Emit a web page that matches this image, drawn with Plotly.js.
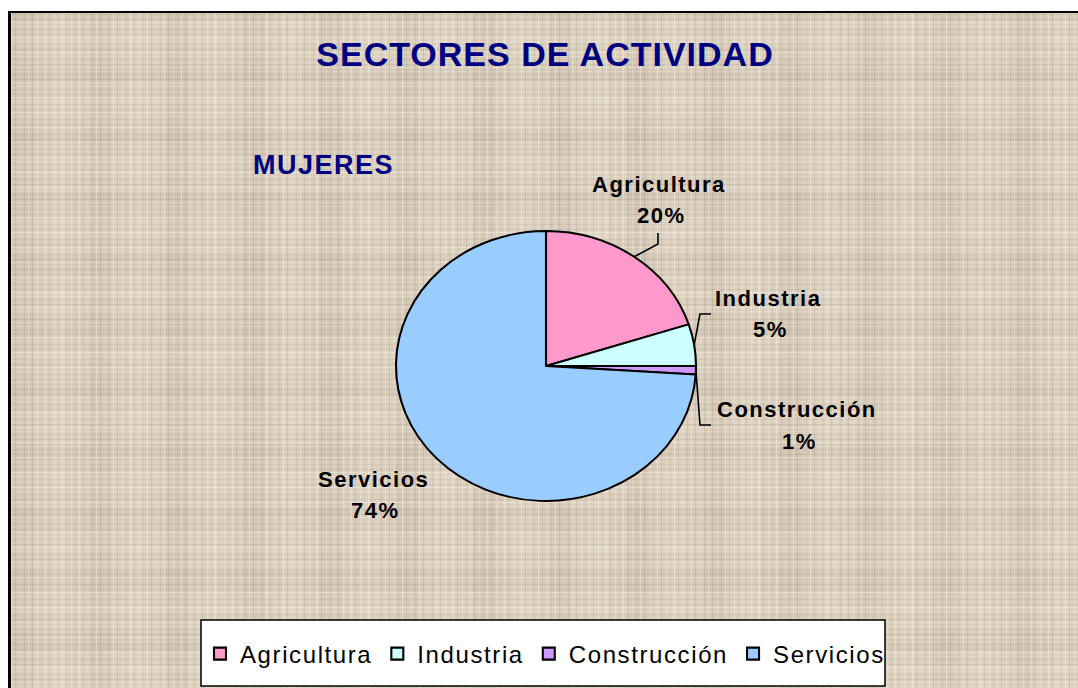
<!DOCTYPE html>
<html>
<head>
<meta charset="utf-8">
<script src="https://cdn.plot.ly/plotly-3.0.1.min.js"></script>
<style>
  html, body { margin:0; padding:0; background:#ffffff; width:1078px; height:688px; overflow:hidden; }
  #frame {
    position:absolute; left:8px; top:11px; width:1100px; height:700px;
    border-left:3px solid #000; border-top:2px solid #000;
    background-color:#dbcfbe;
    background-image:
      repeating-linear-gradient(90deg, rgba(255,250,238,.38) 0 1px, transparent 1px 4px, rgba(130,110,85,.16) 4px 5px, transparent 5px 9px, rgba(255,250,238,.22) 9px 10px, transparent 10px 13px, rgba(130,110,85,.12) 13px 14px, transparent 14px 17px),
      repeating-linear-gradient(0deg, rgba(255,250,238,.38) 0 1px, transparent 1px 3px, rgba(130,110,85,.16) 3px 4px, transparent 4px 8px, rgba(130,110,85,.12) 8px 9px, transparent 9px 11px, rgba(255,250,238,.2) 11px 12px, transparent 12px 15px),
      repeating-linear-gradient(90deg, rgba(120,100,80,.06) 0 23px, transparent 23px 41px, rgba(255,255,245,.08) 41px 57px, transparent 57px 77px),
      repeating-linear-gradient(0deg, rgba(120,100,80,.05) 0 17px, transparent 17px 36px, rgba(255,255,245,.07) 36px 49px, transparent 49px 63px);
  }
  #chart { position:absolute; left:0; top:0; width:1078px; height:688px; }
  .legendtext { letter-spacing:1.6px; }
  .annotation-text { letter-spacing:1.5px; }
  .gtitle { letter-spacing:1px; }
</style>
</head>
<body>
<div id="frame"></div>
<div id="chart"></div>
<script>
// ---- data ----
const categories = ['Agricultura', 'Industria', 'Construcción', 'Servicios'];
const values = [20, 5, 1, 74];
const sliceColors = ['#ff99cc', '#ccffff', '#cc99ff', '#99ccff'];
const chartTitle = 'SECTORES DE ACTIVIDAD';
const subTitle = 'MUJERES';

// ---- layout helpers (pixels -> paper) ----
const W = 1078, H = 688;
const px = x => x / W;
const py = y => 1 - y / H;

// pie geometry (pixels)
const cx = 546, cy = 366, rx = 150, ry = 135;

// label anchor positions (pixels): [nameX, nameY, pctX, pctY]
const labelPos = [
  [659, 184, 661, 215],
  [768, 298, 770, 329],
  [797, 410, 800, 441],
  [373, 479, 375, 510]
];
// leader elbows (pixels), null = no leader line
const leaderElbows = [
  [[658, 244], [658, 233]],
  [[700, 314], [711, 314]],
  [[700, 425], [711, 425]],
  null
];

const total = values.reduce((a, b) => a + b, 0);
const pctText = values.map(v => Math.round(v / total * 100) + '%');

const labelFont = {family: 'Liberation Sans, Arial, sans-serif', size: 22, color: '#000000', weight: 'bold'};

const annotations = [];
const shapes = [];
let cum = 0;
categories.forEach((c, i) => {
  const frac = values[i] / total;
  const mid = (cum + frac / 2) * 2 * Math.PI;
  cum += frac;
  const [nx, ny, qx, qy] = labelPos[i];
  annotations.push({x: px(nx), y: py(ny), xref: 'paper', yref: 'paper', xanchor: 'center', yanchor: 'middle',
    text: c, showarrow: false, font: labelFont});
  annotations.push({x: px(qx), y: py(qy), xref: 'paper', yref: 'paper', xanchor: 'center', yanchor: 'middle',
    text: pctText[i], showarrow: false, font: labelFont});
  if (leaderElbows[i]) {
    const ex = cx + rx * Math.sin(mid), ey = cy - ry * Math.cos(mid);
    let path = 'M' + px(ex) + ',' + py(ey);
    leaderElbows[i].forEach(p => { path += ' L' + px(p[0]) + ',' + py(p[1]); });
    shapes.push({type: 'path', xref: 'paper', yref: 'paper', path: path, line: {color: '#000000', width: 1.6}});
  }
});

annotations.push({x: px(323), y: py(165), xref: 'paper', yref: 'paper', xanchor: 'center', yanchor: 'middle',
  text: subTitle, showarrow: false,
  font: {family: 'Liberation Sans, Arial, sans-serif', size: 27, color: '#000080', weight: 'bold'}});

// legend box
shapes.unshift({type: 'rect', xref: 'paper', yref: 'paper', x0: px(201), x1: px(885), y0: py(686), y1: py(620),
  fillcolor: '#ffffff', line: {color: '#000000', width: 1.5}, layer: 'above'});

const trace = {
  type: 'pie',
  labels: categories,
  values: values,
  sort: false,
  direction: 'clockwise',
  rotation: 0,
  textinfo: 'none',
  hoverinfo: 'none',
  marker: {colors: sliceColors, line: {color: '#000000', width: 2.1}},
  domain: {x: [px(cx - rx), px(cx + rx)], y: [py(cy + rx), py(cy - rx)]}
};

const layout = {
  width: W, height: H,
  margin: {l: 0, r: 0, t: 0, b: 0},
  paper_bgcolor: 'rgba(0,0,0,0)',
  plot_bgcolor: 'rgba(0,0,0,0)',
  title: {text: chartTitle, x: px(545), xanchor: 'center', xref: 'paper', y: py(54), yanchor: 'middle', yref: 'paper',
    font: {family: 'Liberation Sans, Arial, sans-serif', size: 34, color: '#000080', weight: 'bold'}},
  showlegend: true,
  legend: {orientation: 'h', x: px(545), xanchor: 'center', y: py(654), yanchor: 'middle',
    bgcolor: 'rgba(0,0,0,0)', borderwidth: 0, traceorder: 'normal',
    font: {family: 'Liberation Sans, Arial, sans-serif', size: 24, color: '#000000'}},
  annotations: annotations,
  shapes: shapes
};

Plotly.newPlot('chart', [trace], layout, {staticPlot: true, displayModeBar: false}).then(gd => {
  const s = ry / rx;
  const pl = gd.querySelector('.pielayer');
  if (pl) pl.setAttribute('transform', 'translate(0,' + (cy * (1 - s)) + ') scale(1,' + s + ')');
});
</script>
</body>
</html>
